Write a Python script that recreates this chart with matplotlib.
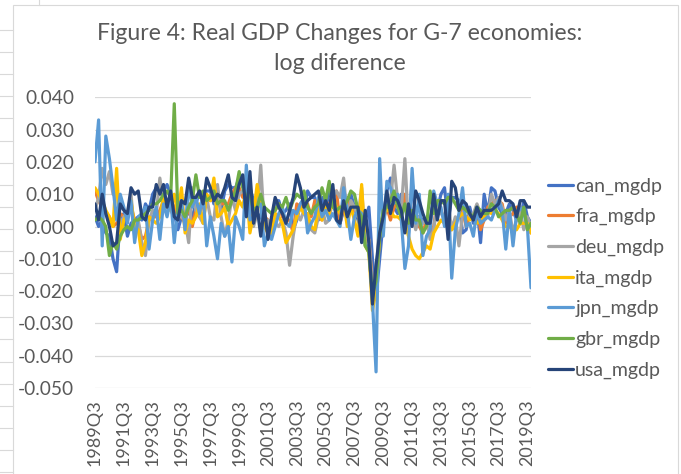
import numpy as np
import matplotlib.pyplot as plt
from matplotlib.lines import Line2D
from matplotlib.patches import Rectangle

# quarterly log differences of real GDP, 1989Q3 .. 2019Q4 (values in thousandths)
can_mgdp = [3, 0, 2, -2, -3, -10, -14, 3, 4, -3, 1, 2, 3, 2, 7, 5,
            10, 12, 13, 11, 13, 10, 4, -1, 3, 4, 4, 3, 7, 11, 10, 11,
            11, 7, 9, 5, 11, 13, 12, 12, 15, 14, 13, 12, 8, 4, 3, 1,
            -1, 2, 8, 8, 4, 5, 7, -1, 2, 7, 5, 11, 9, 9, 2, 9,
            5, 11, 8, 3, 1, 5, 4, 10, 6, 2, -2, 2, 6, -10, -22, -10,
            2, 11, 15, 6, 4, 10, 8, -2, 14, 3, 3, 2, 0, 2, 8, 5,
            10, 12, 2, 9, 9, 8, -2, -1, 6, 1, 6, -5, 10, 4, 12, 11,
            6, 4, 4, 7, 5, 2, 2, 8, 3, 1]
fra_mgdp = [11, 8, 6, 4, 3, 0, 1, 4, 3, 4, 6, 2, 1, -4, -3, 2,
            3, 3, 5, 8, 6, 8, 6, 3, 3, 1, 7, 0, 5, 3, 8, 9,
            8, 9, 10, 7, 7, 7, 10, 12, 12, 9, 11, 9, 5, 10, 7, 3,
            2, 0, 5, 7, 3, 2, 2, -2, 7, 6, 8, 7, 3, 8, 3, 2,
            7, 7, 9, 11, 1, 6, 9, 5, 5, 6, 4, -5, -4, -17, -17, 2,
            2, 6, 2, 6, 7, 6, 10, 1, 3, 1, 0, -2, 2, -2, 0, 8,
            5, 2, 0, -1, 2, 3, 5, 0, 4, 3, 6, -1, 2, 6, 7, 8,
            8, 7, 1, 3, 4, 6, 6, 4, 2, -2]
deu_mgdp = [5, 9, 18, 13, 17, 10, 14, -2, 3, 4, 10, -3, 2, -5, -9, 2,
            5, 4, 15, 7, 8, 5, 3, 4, 3, 2, -5, 12, 5, 3, 1, 9,
            3, 2, 13, 3, -3, 2, 9, 5, 10, 11, 12, 9, 0, 4, 19, 0,
            2, -2, 1, 0, 2, -2, -12, -3, 4, 2, 5, 1, -1, -2, 3, 6,
            1, 2, 9, 11, 9, 15, 3, 8, 6, 3, 12, -5, -4, -19, -22, 0,
            4, 7, 8, 19, 8, 5, 21, 0, 4, -1, 3, 1, 2, -4, -1, 8,
            4, 3, 7, -1, 3, -6, 4, 6, 3, 4, 7, 4, 2, 3, 10, 7,
            9, 6, 2, 5, -2, 2, 5, -1, 3, 0]
ita_mgdp = [12, 10, 8, 5, 3, 0, 18, -4, 2, 4, 8, 0, -1, -9, -5, 3,
            2, 1, 3, 9, 6, 5, 10, 4, 12, -2, 2, 1, 3, 7, 1, 10,
            8, 15, 3, 4, 6, 0, 2, 4, 8, 6, 12, -2, 4, 13, 6, 0,
            -2, -3, 4, 3, 1, -5, -3, -1, 3, 6, 4, 4, 0, -1, 6, 2,
            7, 4, 9, 6, 4, 8, 0, 6, 2, -3, 13, -6, -8, -26, -20, -3,
            4, 5, 5, 3, 3, 2, 1, -3, -7, -9, -10, -8, -6, -7, -2, 0,
            2, 1, 1, -1, 1, 3, 4, 3, 2, 3, 1, 2, 3, 5, 4, 5,
            4, 2, 0, 0, -1, -1, 1, 1, 1, -2]
jpn_mgdp = [20, 33, -6, 28, 21, 12, 2, 10, 6, 1, 8, -5, 3, 4, 6, -7,
            2, 6, -4, 7, 3, 9, -5, 6, 8, -1, 13, 6, 9, 4, 10, -6,
            3, -3, -10, 1, -3, 0, -11, 3, 0, -4, 19, 2, 3, 6, 7, -6,
            -2, -4, 0, 4, 6, 1, 0, 5, 4, 7, 9, -2, 1, 3, 9, 3,
            5, 2, 4, 2, 0, 12, 5, -4, 3, 5, 4, -6, -6, -23, -45, 21,
            -3, 14, 12, 8, 10, 2, -13, -6, 18, 1, 10, -9, -3, -1, 11, 7,
            6, 0, 10, -16, -1, 4, 12, 0, 1, -3, 5, 1, 2, 3, 2, 5,
            8, 5, -7, 5, -6, 4, 6, 4, 0, -19]
gbr_mgdp = [2, 3, 2, 0, -9, -5, -7, -3, -1, 0, -1, 2, 2, 3, 4, 5,
            7, 7, 8, 10, 11, 9, 38, 4, 5, 3, 6, 8, 16, 9, 11, 8,
            9, 11, 7, 8, 8, 5, 8, 11, 17, 12, 9, 10, 5, 6, 10, 6,
            5, 4, 5, 7, 6, 9, 5, 8, 10, 9, 11, 6, 4, 6, 7, 12,
            8, 14, 6, 5, 6, 6, 8, 11, 10, 5, 3, -6, -8, -21, -17, -3,
            5, 6, 8, 11, 6, 3, 7, 1, 5, 2, 2, -2, 0, 11, 4, 8,
            8, 7, 9, 9, 7, 5, 6, 5, 4, 3, 6, 5, 4, 4, 7, 6,
            3, 4, 5, 5, 6, 4, 1, 6, -1, 1]
usa_mgdp = [7, 2, 10, 4, 0, -6, -5, 7, 5, 4, 12, 10, 11, 3, 2, 6,
            6, 13, 10, 13, 6, 11, 3, 2, 8, 7, 15, 9, 9, 11, 7, 15,
            12, 8, 10, 9, 12, 16, 9, 8, 13, 16, 3, 17, 1, 6, -3, 6,
            -4, 3, 9, 6, 4, 1, 5, 9, 16, 12, 6, 8, 9, 10, 11, 5,
            8, 5, 13, 2, 1, 8, 3, 6, 6, 6, -5, 5, -5, -24, -12, -2,
            3, 11, 4, 9, 8, 5, -2, 7, 0, 11, 8, 4, 1, 1, 10, 2,
            8, 8, -4, 14, 12, 5, 8, 7, 4, 2, 6, 3, 5, 5, 5, 6,
            7, 11, 8, 8, 7, 3, 8, 8, 6, 6]

series_names = ["can_mgdp", "fra_mgdp", "deu_mgdp", "ita_mgdp",
                "jpn_mgdp", "gbr_mgdp", "usa_mgdp"]
series = [can_mgdp, fra_mgdp, deu_mgdp, ita_mgdp, jpn_mgdp, gbr_mgdp, usa_mgdp]
colors = ["#4472C4", "#ED7D31", "#A5A5A5", "#FFC000", "#5B9BD5", "#70AD47", "#264478"]

tick_labels = ["1989Q3", "1991Q3", "1993Q3", "1995Q3", "1997Q3", "1999Q3",
               "2001Q3", "2003Q3", "2005Q3", "2007Q3", "2009Q3", "2011Q3",
               "2013Q3", "2015Q3", "2017Q3", "2019Q3"]
y_ticks = [0.04, 0.03, 0.02, 0.01, 0.0, -0.01, -0.02, -0.03, -0.04, -0.05]

plt.rcParams['font.family'] = ['Lato', 'DejaVu Sans']
txt = "#595959"
grid = "#D9D9D9"

fig = plt.figure(figsize=(6.81, 4.74), dpi=100)
ax = fig.add_axes([95 / 681, 1 - 388 / 474, 436 / 681, 290.7 / 474])

for name, vals, col in zip(series_names, series, colors):
    v = np.array(vals) / 1000.0
    ax.plot(np.arange(len(v)), v, color=col, lw=2.3, label=name,
            solid_joinstyle='round', solid_capstyle='round')

n = len(usa_mgdp)
ax.set_xlim(0, n - 1)
ax.set_ylim(-0.05, 0.04)
ax.set_yticks(y_ticks)
ax.set_yticklabels([f"{t:.3f}" for t in y_ticks])
ax.set_xticks(np.arange(0, n, 8)[:len(tick_labels)])
ax.set_xticklabels(tick_labels, rotation=90)
ax.grid(axis='y', color=grid, lw=0.9)
ax.set_axisbelow(True)
for s in ax.spines.values():
    s.set_visible(False)
ax.tick_params(axis='y', length=0, pad=15, labelsize=13.8, labelcolor=txt)
ax.tick_params(axis='x', length=0, pad=8, labelsize=13, labelcolor=txt)

fig.text(340 / 681, 1 - 33 / 474, "Figure 4: Real GDP Changes for G-7 economies:",
         ha='center', va='center', fontsize=16.6, color=txt)
fig.text(340 / 681, 1 - 63 / 474, "log diference",
         ha='center', va='center', fontsize=16.6, color=txt)

ax.legend(loc='center left', bbox_to_anchor=(548 / 681, 1 - 278 / 474),
          bbox_transform=fig.transFigure, frameon=False, fontsize=14,
          labelcolor=txt, handlelength=1.3, handletextpad=0.1,
          labelspacing=0.69, borderpad=0, borderaxespad=0)

# chart frame and the spreadsheet cells peeking out at the left
fig.add_artist(Rectangle((12.5 / 681, -0.01), 665 / 681, 1.01 - 5 / 474,
                         transform=fig.transFigure, fill=False,
                         edgecolor=grid, lw=0.8))
for yp in np.linspace(30, 472, 21):
    fig.add_artist(Line2D([0, 12.5 / 681], [1 - yp / 474] * 2,
                          transform=fig.transFigure, color=grid, lw=0.8))
fig.add_artist(Line2D([39 / 681] * 2, [1, 1 - 5 / 474],
                      transform=fig.transFigure, color=grid, lw=0.8))

fig.savefig("out.png", dpi=100)
